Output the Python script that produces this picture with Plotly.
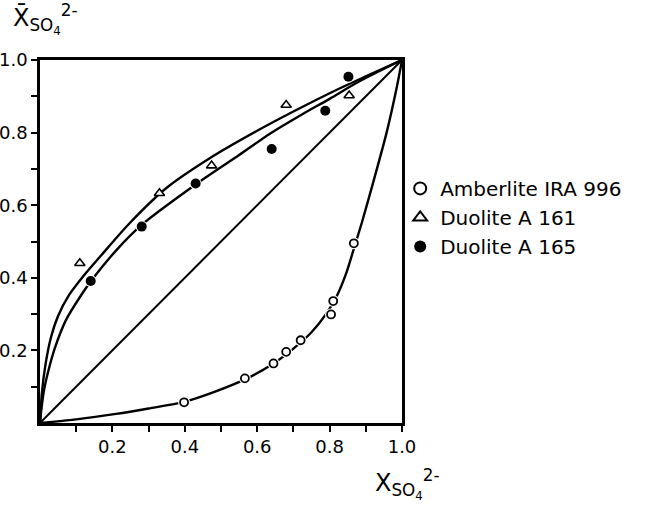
import plotly.graph_objects as go

# measured points
amb_x = [0.398, 0.566, 0.645, 0.680, 0.720, 0.804, 0.810, 0.867]
amb_y = [0.057, 0.123, 0.164, 0.196, 0.228, 0.299, 0.336, 0.495]
a161_x = [0.110, 0.330, 0.474, 0.680, 0.854]
a161_y = [0.440, 0.633, 0.709, 0.876, 0.902]
a165_x = [0.140, 0.281, 0.430, 0.640, 0.788, 0.852]
a165_y = [0.391, 0.541, 0.660, 0.755, 0.860, 0.954]

# drawn curves
c161_x = [0, 0.005, 0.015, 0.030, 0.050, 0.080, 0.120, 0.170, 0.250, 0.35, 0.47, 0.60, 0.70, 0.82, 0.90, 1.0]
c161_y = [0, 0.080, 0.160, 0.235, 0.295, 0.352, 0.405, 0.463, 0.553, 0.648, 0.730, 0.805, 0.858, 0.918, 0.955, 1.0]
c165_x = [0, 0.004, 0.012, 0.026, 0.044, 0.072, 0.109, 0.141, 0.21, 0.28, 0.43, 0.55, 0.635, 0.72, 0.80, 0.88, 1.0]
c165_y = [0, 0.040, 0.095, 0.155, 0.215, 0.284, 0.345, 0.391, 0.475, 0.545, 0.657, 0.738, 0.797, 0.848, 0.893, 0.94, 1.0]
camb_x = [0, 0.10, 0.21, 0.30, 0.398, 0.48, 0.566, 0.645, 0.70, 0.75, 0.79, 0.82, 0.845, 0.867, 0.89, 0.921, 0.958, 0.985, 1.0]
camb_y = [0, 0.010, 0.025, 0.040, 0.058, 0.085, 0.120, 0.164, 0.205, 0.250, 0.300, 0.350, 0.410, 0.480, 0.555, 0.665, 0.802, 0.922, 1.0]
diag = [0, 1]

x_ticks = [0.1, 0.2, 0.3, 0.4, 0.5, 0.6, 0.7, 0.8, 0.9, 1.0]
x_labels = ["", "0.2", "", "0.4", "", "0.6", "", "0.8", "", "1.0"]
y_ticks = [0.1, 0.2, 0.3, 0.4, 0.5, 0.6, 0.7, 0.8, 0.9, 1.0]
y_labels = ["", "0.2", "", "0.4", "", "0.6", "", "0.8", "", "1.0"]

FONT = "DejaVu Sans"
fig = go.Figure()
for cx, cy in [(c161_x, c161_y), (c165_x, c165_y), (camb_x, camb_y)]:
    fig.add_trace(go.Scatter(x=cx, y=cy, mode="lines",
                             line=dict(color="black", width=2.4, shape="spline", smoothing=0.8),
                             showlegend=False, hoverinfo="skip"))
fig.add_trace(go.Scatter(x=diag, y=diag, mode="lines", line=dict(color="black", width=2), showlegend=False))

# white halos to break the curves around the markers
for mx, my in [(amb_x, amb_y), (a165_x, a165_y)]:
    fig.add_trace(go.Scatter(x=mx, y=my, mode="markers", marker=dict(size=12, color="white"),
                             showlegend=False, hoverinfo="skip"))

fig.add_trace(go.Scatter(x=amb_x, y=amb_y, mode="markers", name="Amberlite IRA 996", legendgroup="a",
                         marker=dict(symbol="circle-open", size=8, color="black", line=dict(width=1.8))))
fig.add_trace(go.Scatter(x=a161_x, y=a161_y, mode="markers", name="Duolite A 161", legendgroup="b",
                         marker=dict(symbol="triangle-up", size=9, color="white", line=dict(width=1.6, color="black"))))
fig.add_trace(go.Scatter(x=a165_x, y=a165_y, mode="markers", name="Duolite A 165", legendgroup="c",
                         marker=dict(symbol="circle", size=10, color="black")))

axis = dict(range=[0, 1], showgrid=False, zeroline=False, showline=True, linecolor="black", linewidth=2.6,
            mirror=True, ticks="outside", ticklen=6, tickwidth=2, tickcolor="black", automargin=False,
            tickfont=dict(family=FONT, size=18, color="black"))
fig.update_xaxes(**axis, tickvals=x_ticks, ticktext=x_labels)
fig.update_yaxes(**axis, tickvals=y_ticks, ticktext=y_labels)

fig.update_layout(
    width=655, height=505,
    margin=dict(l=40, r=253, t=60, b=82),
    plot_bgcolor="white", paper_bgcolor="white",
    font=dict(family=FONT, color="black"),
    legend=dict(x=0.995, y=0.70, xanchor="left", yanchor="top", font=dict(family=FONT, size=20),
                itemsizing="constant", itemwidth=30, tracegroupgap=0, bgcolor="rgba(0,0,0,0)"),
    annotations=[
        dict(text="X\u0304<sub>SO<sub>4</sub></sub><sup>2-</sup>", xref="paper", yref="paper",
             x=-0.08, y=1.055, xanchor="left", yanchor="bottom", showarrow=False,
             font=dict(family=FONT, size=24)),
        dict(text="X<sub>SO<sub>4</sub></sub><sup>2-</sup>", xref="paper", yref="paper",
             x=0.92, y=-0.11, xanchor="left", yanchor="top", showarrow=False,
             font=dict(family=FONT, size=24)),
    ],
)
fig.write_html("out.html")
